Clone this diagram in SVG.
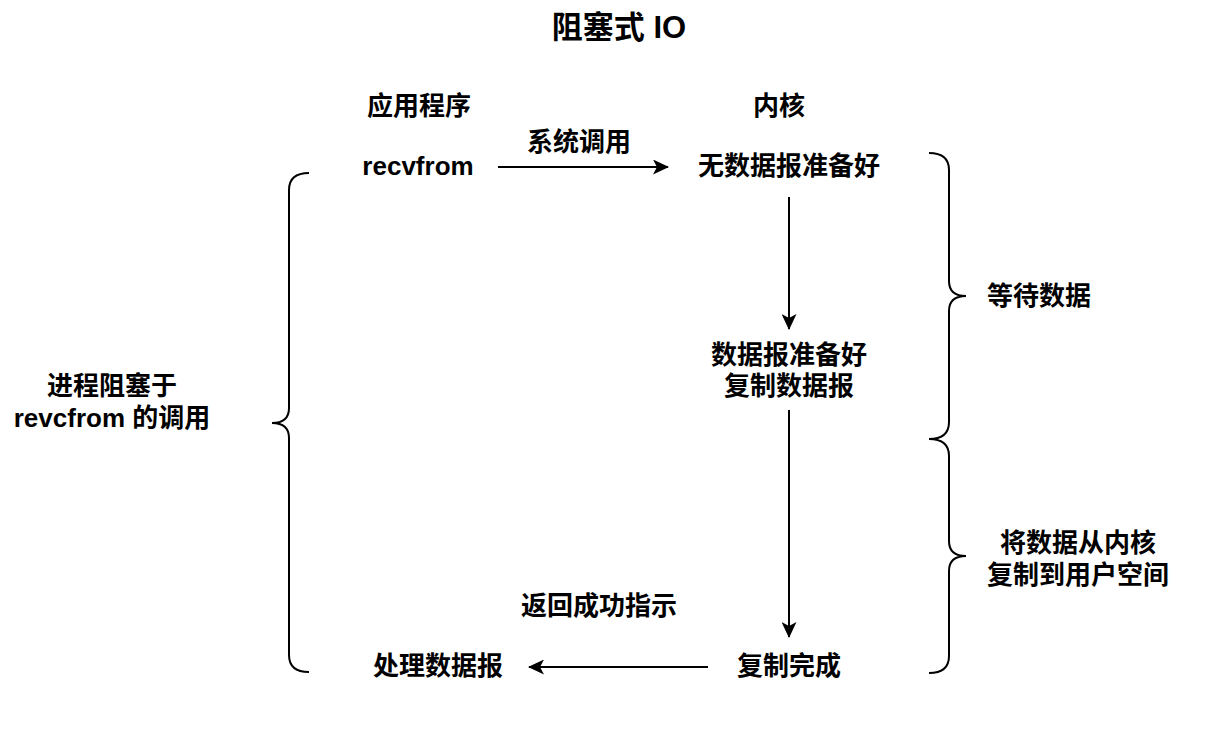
<svg xmlns="http://www.w3.org/2000/svg" width="1226" height="752" viewBox="0 0 1226 752">
<style>
  text { font-family: "Liberation Sans", "Noto Sans CJK SC", sans-serif; font-weight: bold; font-size: 26px; fill: #000; text-anchor: middle; dominant-baseline: central; }
  .title { font-size: 31px; }
  .conn { stroke: #000; stroke-width: 2; fill: none; }
  .brace { stroke: #000; stroke-width: 2; fill: none; }
</style>
<defs>
  <marker id="arrow" viewBox="0 0 16 15" refX="15" refY="7.5" markerWidth="16" markerHeight="15" markerUnits="userSpaceOnUse" orient="auto">
    <path d="M0,0 L16,7.5 L0,15 L4,7.5 Z" fill="#000"/>
  </marker>
</defs>
<rect width="1226" height="752" fill="#fff"/>
<g id="title"><text class="title" x="619" y="27">阻塞式 IO</text></g>
<g id="app-header"><text x="419" y="106">应用程序</text></g>
<g id="kernel-header"><text x="779" y="106">内核</text></g>
<g id="recvfrom"><text x="418" y="166">recvfrom</text></g>
<g id="no-data"><text x="789" y="166">无数据报准备好</text></g>
<g id="data-ready"><text x="789" y="355">数据报准备好</text><text x="789" y="386">复制数据报</text></g>
<g id="copy-done"><text x="789" y="666">复制完成</text></g>
<g id="process-data"><text x="438" y="666">处理数据报</text></g>
<g id="blocked"><text x="112" y="386">进程阻塞于</text><text x="112" y="418">revcfrom 的调用</text></g>
<g id="wait-data"><text x="1039" y="296">等待数据</text></g>
<g id="copy-kernel"><text x="1078" y="543">将数据从内核</text><text x="1078" y="575">复制到用户空间</text></g>
<g id="braces">
  <path class="brace" d="M309,173 Q289,173 289,190 L289,408 Q289,423 272,423 Q289,423 289,438 L289,655 Q289,672 309,672"/>
  <path class="brace" d="M929,153 Q949,153 949,170 L949,281 Q949,296 966,296 Q949,296 949,311 L949,422 Q949,439 929,439"/>
  <path class="brace" d="M929,439 Q949,439 949,456 L949,541 Q949,556 966,556 Q949,556 949,571 L949,656 Q949,673 929,673"/>
</g>
<g id="connectors">
  <line class="conn" x1="498" y1="167" x2="668" y2="167" marker-end="url(#arrow)"/>
  <text x="579" y="142">系统调用</text>
  <line class="conn" x1="789" y1="197" x2="789" y2="329" marker-end="url(#arrow)"/>
  <line class="conn" x1="789" y1="410" x2="789" y2="637" marker-end="url(#arrow)"/>
  <line class="conn" x1="708" y1="667" x2="529" y2="667" marker-end="url(#arrow)"/>
  <text x="599" y="606">返回成功指示</text>
</g>
</svg>
